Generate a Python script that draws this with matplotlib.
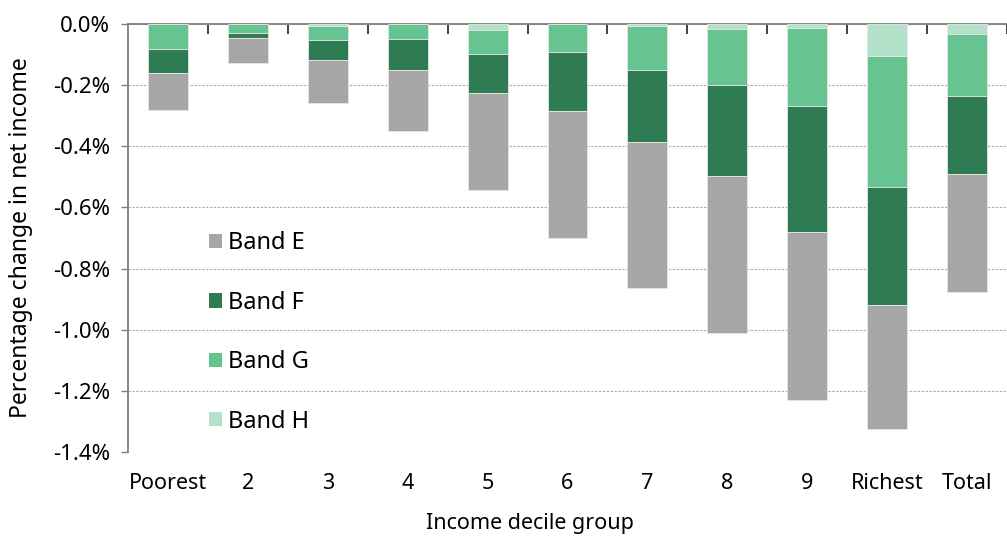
import numpy as np
import matplotlib
matplotlib.use("Agg")
import matplotlib.pyplot as plt
from matplotlib.patches import Patch
from matplotlib.ticker import FuncFormatter, MultipleLocator

plt.rcParams['font.family'] = ['Noto Sans', 'DejaVu Sans']

# -------------------------------
# Data (percentage points, losses shown as negatives)
# -------------------------------
groups = ["Poorest", "2", "3", "4", "5", "6", "7", "8", "9", "Richest", "Total"]
band_h = [0.000, 0.000, 0.006, 0.000, 0.020, 0.000, 0.005, 0.017, 0.013, 0.104, 0.032]
band_g = [0.082, 0.028, 0.047, 0.048, 0.079, 0.092, 0.145, 0.181, 0.255, 0.430, 0.203]
band_f = [0.078, 0.018, 0.064, 0.102, 0.127, 0.192, 0.236, 0.299, 0.412, 0.384, 0.255]
band_e = [0.121, 0.082, 0.142, 0.201, 0.318, 0.416, 0.478, 0.513, 0.550, 0.408, 0.385]

colors = {"E": "#a6a6a6", "F": "#2f7b53", "G": "#66c491", "H": "#b3e1c9"}

# -------------------------------
# Plot
# -------------------------------
fig = plt.figure(figsize=(10.07, 5.41), dpi=100)
ax = fig.add_axes([128 / 1007, 89 / 541, 879 / 1007, 428 / 541])

x = np.arange(len(groups))
bottom = np.zeros(len(groups))
for key, vals in [("H", band_h), ("G", band_g), ("F", band_f), ("E", band_e)]:
    v = -np.array(vals)
    ax.bar(x, v, bottom=bottom, width=0.5, color=colors[key],
           edgecolor="#e6e6e6", linewidth=0.6, zorder=3)
    bottom = bottom + v

ax.set_ylim(-1.4, 0)
ax.set_xlim(-0.5, (1007 - 128) / 80.9 - 0.5)
ax.yaxis.set_major_locator(MultipleLocator(0.2))
ax.yaxis.set_major_formatter(FuncFormatter(lambda v, p: f"{v:.1f}%"))
ax.grid(axis="y", linestyle=(0, (2, 1.5)), color="#a8a8a8", linewidth=0.8, zorder=0)

for s in ["right", "bottom"]:
    ax.spines[s].set_visible(False)
ax.spines["left"].set_color("#7f7f7f")
ax.spines["top"].set_color("#7f7f7f")
ax.spines["left"].set_linewidth(1.3)
ax.spines["top"].set_linewidth(1.3)

ax.set_xticks(x)
ax.set_xticklabels(groups)
ax.set_xticks(np.arange(len(groups)) + 0.5, minor=True)
ax.tick_params(axis="x", which="major", length=0, pad=15, labelsize=15.5)
ax.tick_params(axis="x", which="minor", top=True, bottom=False, direction="in",
               length=7, width=1.3, color="#333333")
ax.tick_params(axis="y", length=5, width=1, color="#7f7f7f", pad=8, labelsize=16)

ax.set_xlabel("Income decile group", fontsize=15.5)
ax.xaxis.set_label_coords(0.457, -0.143)
ax.set_ylabel("Percentage change in net income", fontsize=16.5, labelpad=14)

handles = [Patch(facecolor=colors[k]) for k in ["E", "F", "G", "H"]]
ax.legend(handles, ["Band E", "Band F", "Band G", "Band H"], loc="upper left",
          bbox_to_anchor=(0.068, 0.565), frameon=False, fontsize=17,
          handlelength=0.55, handleheight=0.55, handletextpad=0.25, labelspacing=1.5)

fig.savefig("out.png", dpi=100)
